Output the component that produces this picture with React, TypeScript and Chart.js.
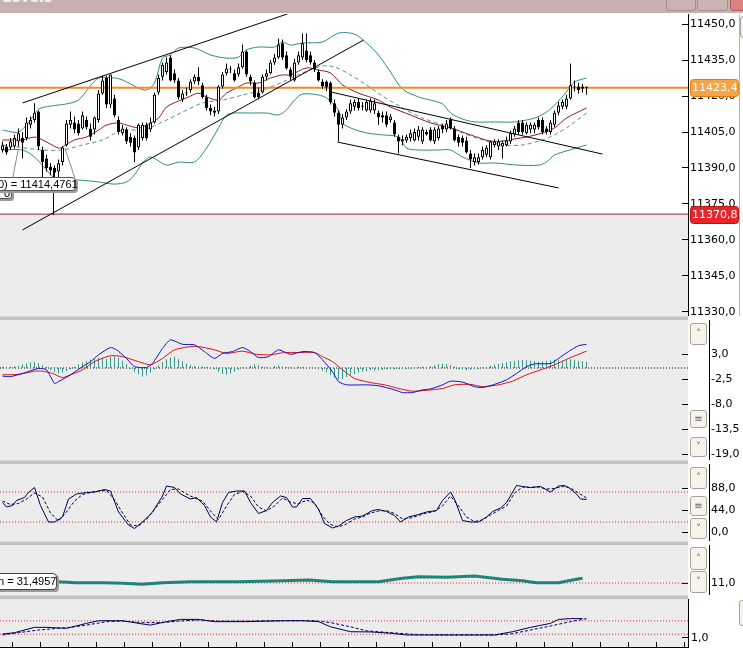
import React, { useEffect, useRef } from 'react';
import { Chart, registerables } from 'chart.js';

Chart.register(...registerables);

const X_MIN = -0.625;
const X_MAX = 171.375;

// ---- price candles (bar index 0..146) ----
const opens = [
  11397.5, 11399, 11398.5, 11399, 11401, 11402.5, 11402.5, 11408, 11410, 11413.5,
  11397.5, 11394, 11390.5, 11390, 11388.5, 11392.5, 11399.5, 11408, 11409, 11408.5,
  11406.5, 11410, 11406.5, 11406, 11410, 11421, 11427.5, 11416.5, 11419, 11410,
  11404.5, 11406, 11403, 11402.5, 11398.5, 11402.5, 11408, 11406, 11409, 11421.5,
  11428, 11430, 11436, 11429.5, 11426.5, 11418.5, 11421.5, 11422.5, 11426, 11428,
  11424.5, 11419.5, 11415, 11414, 11413.5, 11424, 11429.5, 11431.5, 11429.5, 11429,
  11432, 11438.5, 11428, 11425.5, 11421.5, 11421.5, 11428, 11429.5, 11434, 11436,
  11442, 11437, 11431, 11426.5, 11434, 11436, 11439, 11437, 11434, 11430,
  11426, 11426, 11425.5, 11417, 11413, 11408, 11411, 11413.5, 11415.5, 11417.5,
  11416, 11414, 11414, 11414, 11413, 11412, 11412, 11410, 11409, 11403,
  11401, 11401.5, 11402.5, 11401.5, 11403, 11401, 11405, 11406, 11401, 11402.5,
  11407.5, 11406, 11410, 11406.5, 11403, 11402.5, 11401.5, 11396, 11392.5, 11392.5,
  11394.5, 11395.5, 11394.5, 11399.5, 11399, 11399, 11399.5, 11401, 11404, 11409,
  11409, 11404.5, 11406, 11406, 11410, 11410, 11406.5, 11405, 11408, 11413,
  11415.5, 11415.5, 11419, 11424, 11424, 11424, 11423.5
];
const highs = [
  11401, 11400, 11402.5, 11404, 11406.5, 11405, 11411, 11411.5, 11417, 11414,
  11399, 11395.5, 11392, 11391, 11393.5, 11399, 11410, 11413.5, 11411.5, 11410,
  11413.5, 11411.5, 11408.5, 11411.5, 11422.5, 11428.5, 11428.5, 11429, 11420.5, 11411.5,
  11408, 11407, 11404.5, 11403.5, 11408.5, 11409, 11409, 11411, 11421.5, 11429,
  11434, 11436, 11437, 11431, 11427.5, 11422.5, 11423.5, 11427, 11429, 11432,
  11425.5, 11420.5, 11416.5, 11415.5, 11424.5, 11430, 11433.5, 11432.5, 11431, 11433.5,
  11441.5, 11439, 11429, 11426.5, 11423.5, 11429, 11431, 11435, 11437.5, 11444,
  11443.5, 11438.5, 11432, 11435.5, 11438.5, 11446, 11446, 11438.5, 11435, 11431,
  11427, 11426.5, 11426, 11418.5, 11414, 11412.5, 11414.5, 11418.5, 11418.5, 11419,
  11417.5, 11418.5, 11419, 11418.5, 11414, 11413.5, 11413.5, 11412.5, 11410, 11404,
  11403.5, 11404, 11406, 11406.5, 11407.5, 11407, 11406, 11407, 11407, 11407.5,
  11408.5, 11410, 11411, 11407.5, 11404, 11403.5, 11403, 11397.5, 11396, 11396,
  11399, 11399.5, 11401.5, 11402, 11402, 11401.5, 11403, 11405.5, 11407.5, 11410,
  11410, 11409, 11409, 11409, 11411, 11411, 11407.5, 11410, 11414, 11417.5,
  11418.5, 11420.5, 11433.5, 11426.5, 11425.5, 11425, 11424
];
const lows = [
  11396.5, 11395.5, 11397.5, 11398, 11399, 11394, 11401.5, 11406.5, 11409, 11397.5,
  11385, 11388.5, 11387, 11386, 11385, 11391, 11399, 11406.5, 11404.5, 11403.5,
  11406, 11406, 11401.5, 11404, 11409, 11420.5, 11415, 11415, 11411, 11404,
  11403.5, 11400, 11399, 11392.5, 11397.5, 11401.5, 11401.5, 11405, 11408.5, 11420.5,
  11426.5, 11429, 11426, 11425.5, 11418.5, 11417.5, 11420, 11421.5, 11425, 11424.5,
  11419, 11414, 11412, 11411.5, 11412.5, 11423, 11428.5, 11429.5, 11426, 11428,
  11431.5, 11428, 11424.5, 11419, 11418.5, 11421, 11426.5, 11429, 11433, 11435.5,
  11435, 11431, 11426.5, 11426, 11433, 11435, 11434, 11433, 11430, 11426,
  11423, 11422, 11416.5, 11411.5, 11401, 11406.5, 11410, 11412.5, 11414, 11414,
  11414, 11413.5, 11413, 11412.5, 11408, 11409, 11407, 11409, 11403, 11396,
  11399.5, 11400.5, 11401, 11401, 11401.5, 11400, 11403.5, 11401, 11400, 11401.5,
  11404.5, 11405, 11406, 11401, 11399, 11399, 11396, 11390, 11391, 11391.5,
  11393.5, 11394.5, 11393.5, 11398.5, 11397.5, 11394, 11399, 11400, 11403, 11404,
  11404, 11404, 11404.5, 11404.5, 11406, 11404, 11404, 11404, 11407, 11412,
  11414.5, 11414.5, 11418.5, 11422, 11421, 11421.5, 11420.5
];
const closes = [
  11399.5, 11396.5, 11401, 11402.5, 11404.5, 11400.5, 11409, 11410, 11413, 11399,
  11392.5, 11390, 11389, 11388, 11392, 11398.5, 11408.5, 11410, 11406, 11404.5,
  11412, 11407, 11403, 11411, 11421, 11426.5, 11416.5, 11429, 11412, 11405,
  11406.5, 11401, 11400.5, 11396.5, 11408, 11408, 11402.5, 11409, 11420.5, 11427.5,
  11433, 11434, 11426.5, 11426.5, 11419.5, 11421, 11421, 11426, 11428, 11426,
  11419.5, 11415, 11413.5, 11413, 11424, 11429, 11431.5, 11431, 11426.5, 11432,
  11438.5, 11429, 11426, 11419.5, 11419.5, 11428, 11429.5, 11434, 11436, 11441.5,
  11436, 11431.5, 11428, 11434, 11437, 11442, 11435, 11434, 11431, 11426.5,
  11424, 11423.5, 11417.5, 11413, 11408, 11411, 11413.5, 11417, 11417.5, 11415,
  11415.5, 11417.5, 11418, 11417, 11411, 11411, 11408, 11411.5, 11404, 11401,
  11402, 11403, 11404.5, 11405, 11406, 11406, 11404, 11401.5, 11406, 11406.5,
  11406, 11408.5, 11406.5, 11401.5, 11400.5, 11400.5, 11396.5, 11393.5, 11394.5, 11394.5,
  11397.5, 11398.5, 11401, 11401, 11401, 11400.5, 11401.5, 11404.5, 11406.5, 11405,
  11405, 11408, 11408, 11408, 11407, 11405, 11405, 11409, 11413, 11416,
  11417.5, 11419, 11424.5, 11423.5, 11422.5, 11423, 11423.4
];

const lastPrice = 11423.4;
const lowerMark = 11370.8;
const priceTicks = [11450, 11435, 11420, 11405, 11390, 11375, 11360, 11345, 11330];

// ---- overlays: [bar index, price] ----
const bbUpper = [
  [0, 11405.8], [4, 11405], [7, 11410], [9, 11414.5], [12, 11415.8], [16, 11416.7], [19, 11418.3],
  [22, 11424.2], [24, 11427.5], [28, 11427.5], [30, 11426.7], [34, 11423.3], [36, 11422.5], [38, 11425.4],
  [40, 11435.8], [42, 11437.1], [44, 11440], [48, 11440], [52, 11437.1], [56, 11435.8], [59, 11436.2],
  [61, 11439.2], [64, 11440.4], [68, 11440.4], [70, 11442.5], [72, 11441.2], [75, 11442.1], [80, 11442.5],
  [84, 11446.2], [88, 11445.8], [91, 11442.1], [94, 11437.1], [97, 11430], [100, 11422.9], [104, 11419.6],
  [107, 11418.3], [110, 11416.7], [112, 11412.9], [115, 11410.4], [118, 11409.2], [123, 11409.2],
  [128, 11409.2], [133, 11410.8], [136, 11413.3], [138, 11416.2], [141, 11421.7], [143, 11425.8], [146, 11427.5]
];
const bbLower = [
  [0, 11397.5], [5, 11397.5], [8, 11394.6], [11, 11389.2], [13, 11385.8], [16, 11385], [19, 11385],
  [24, 11384.2], [28, 11383.3], [31, 11384.2], [33, 11387.1], [35, 11392.1], [37, 11394.6], [41, 11391.2],
  [44, 11392.5], [48, 11392.5], [51, 11398.3], [54, 11406.7], [56, 11412.1], [58, 11412.9], [62, 11412.9],
  [66, 11412.9], [69, 11412.1], [71, 11414.2], [73, 11418.3], [75, 11420.8], [79, 11420.4], [81, 11419.2],
  [84, 11414.2], [85, 11408.8], [87, 11406.7], [91, 11404.6], [95, 11403.8], [99, 11402.9], [101, 11398.3],
  [104, 11397.5], [109, 11397.5], [112, 11397.5], [115, 11394.6], [119, 11392.1], [123, 11392.1],
  [129, 11391.2], [134, 11391.2], [136, 11392.5], [138, 11395.4], [141, 11397.1], [146, 11399.6]
];
const maMid = [
  [0, 11401.7], [5, 11401.7], [8, 11402.9], [10, 11401.7], [14, 11398.3], [15, 11398.8], [18, 11401.7],
  [21, 11402.9], [24, 11405.8], [26, 11407.9], [29, 11408.8], [31, 11407.9], [34, 11406.7], [36, 11407.9],
  [39, 11410.8], [41, 11415.4], [44, 11417.9], [46, 11419.2], [49, 11421.2], [51, 11419.6], [54, 11418.3],
  [56, 11421.2], [59, 11423.8], [61, 11425.4], [64, 11425.4], [67, 11427.5], [70, 11428.8], [72, 11428.8],
  [76, 11431.7], [79, 11430.8], [82, 11429.6], [85, 11424.6], [89, 11421.2], [94, 11418.3], [97, 11415.4],
  [102, 11412.1], [107, 11408.8], [112, 11406.7], [117, 11403.8], [122, 11401.2], [125, 11401.2],
  [128, 11402.1], [131, 11402.9], [135, 11404.6], [138, 11406.7], [141, 11410.8], [146, 11415]
];
const maSlow = [
  [0, 11399.6], [10, 11397.5], [15, 11397.5], [20, 11399.6], [25, 11401.7], [30, 11405.8], [35, 11405.8],
  [40, 11409.2], [45, 11413.3], [50, 11417.1], [55, 11418.3], [60, 11420.4], [65, 11422.5], [70, 11425.8],
  [75, 11429.6], [80, 11432.5], [83, 11432.1], [87, 11428.8], [91, 11424.6], [95, 11420], [100, 11415],
  [105, 11410.8], [110, 11407.9], [115, 11404.6], [120, 11401.7], [125, 11399.6], [130, 11399.6],
  [135, 11401.7], [138, 11403.8], [142, 11407.9], [146, 11412.9]
];
const channelUp = [[5, 11417.1], [71.25, 11454.2]];
const channelDown = [[5, 11364.2], [90.25, 11443.3]];
const descUpper = [[82, 11421.7], [150, 11395.8]];
const descLower = [[83.75, 11400.8], [139, 11381.7]];
const markerLine = [[12.75, 11388.3], [12.75, 11370.4]];
const pointerA = [[2.6, 11386.2], [3.9, 11397.5]];
const pointerB = [[15.6, 11398.3], [18.1, 11385.8]];

// ---- MACD ----
const macdLine = [
  [0, -1.8], [2, -1.9], [5, -1.2], [9, -0.1], [11, -0.4], [13, -3.4], [14, -3.0], [17, -1.5], [20, 0.3],
  [22, 1.4], [24, 2.9], [27, 4.5], [28.5, 4.0], [31, 2.1], [33, 0.3], [36, 0.1], [37.5, 1.0], [40, 4.3],
  [42, 6.2], [45, 5.2], [48, 5.1], [50.5, 3.6], [53, 2.1], [55, 3.2], [57.5, 3.6], [60, 4.5], [62, 3.6],
  [64, 2.3], [66.5, 2.5], [69, 4.0], [72, 3.0], [75, 3.6], [78, 3.4], [80, 1.8], [82.5, -0.8], [84, -3.0],
  [86, -3.7], [91, -3.7], [94, -3.9], [98, -4.8], [100, -5.4], [102.5, -5.4], [105, -4.8], [107, -4.6],
  [110, -3.7], [112, -2.9], [115, -3.1], [118, -4.1], [120, -4.3], [123, -3.6], [126, -2.6], [128.5, -1.2],
  [131, 0.3], [133, 0.9], [137, 1.0], [139, 2.1], [141.5, 3.6], [144, 4.9], [146, 5.2]
];
const macdSignal = [
  [0, -1.5], [4, -1.4], [8, -0.7], [10, -0.7], [12.5, -1.2], [15, -2.1], [17, -1.5], [20, -0.4], [23, 1.4],
  [27, 2.7], [30, 2.5], [34, 1.4], [37, 0.7], [40, 2.1], [43, 4.0], [47, 4.7], [49, 4.7], [53, 4.0], [56, 3.2],
  [60, 3.7], [63.5, 3.0], [67, 2.9], [70.5, 3.4], [74, 3.4], [78, 3.4], [80, 2.5], [82.5, 1.4], [85, -0.4],
  [88, -2.3], [92, -3.2], [95.5, -3.7], [99, -4.5], [102.5, -5.1], [106, -4.9], [110, -4.5], [113, -3.7],
  [117, -3.6], [120, -4.1], [124, -3.7], [127.5, -2.9], [131, -1.5], [134.5, -0.4], [138, 0.7], [141.5, 2.1],
  [146, 3.7]
];
const macdHist = [
  0.2, 0.3, 0.3, 0.4, 0.5,
  0.8, 1.0, 1.2, 1.4, 1.0, 0.6, 0.2,
  -0.4, -0.9, -1.2, -1.0, -0.7, -0.3,
  0.3, 0.8, 1.2, 1.5, 1.8, 2.0, 2.2, 2.3, 2.0, 2.4, 2.5, 2.2, 1.6,
  0.8, -0.2, -0.9, -1.4, -1.9, -1.6, -1.0, -0.3,
  0.6, 1.3, 1.9, 2.3, 2.5, 2.0, 1.5, 1.0, 0.7, 0.5, 0.4, 0.3,
  0.2, 0.2, -0.3, -0.8, -1.3, -1.5, -1.2, -0.8, -0.4, 0.1,
  0.3, 0.5, 0.8, 0.6, 0.3, 0.1, 0.2, 0.5, 0.6, 0.4, 0.2, 0.1, 0.2,
  0.3, 0.2, 0.1, 0.1, 0.0, -0.3, -0.6, -1.0,
  -1.6, -2.1, -2.6, -2.4, -2.0, -1.6, -1.3, -1.0, -0.8, -0.7, -0.5,
  -0.6, -0.5, -0.4, -0.3, -0.3, -0.2, -0.2, -0.3, -0.2, -0.1, 0.1, 0.2, 0.3, 0.3, 0.4,
  0.6, 0.9, 1.0, 0.9, 0.6, 0.3, -0.2, -0.4, -0.5, -0.4, -0.3, -0.2, 0.1,
  0.3, 0.5, 0.7, 0.9, 1.1, 1.3, 1.5, 1.6, 1.7, 1.8, 1.7, 1.6, 1.5, 1.4, 1.5, 1.6, 1.7, 1.8, 1.7, 1.6,
  1.8, 1.9, 1.8, 1.6, 1.5, 1.4
];
const macdTicks = [3, -2.5, -8, -13.5, -19];

// ---- Stochastic ----
const stochK = [
  [0, 59], [1, 50], [2.5, 53], [3.5, 63], [5.5, 69], [6.5, 79], [8, 89], [9.5, 53], [11.5, 20], [13, 20],
  [15, 30], [16.5, 66], [18.5, 76], [21, 79], [23, 80], [25.5, 85], [27, 82], [29, 40], [31.5, 14], [33, 7],
  [35, 20], [37.5, 40], [40, 72], [41, 92], [43, 89], [44.5, 76], [47, 66], [48.5, 69], [50.5, 53], [52, 30],
  [53.5, 20], [55, 59], [56.5, 79], [58.5, 82], [60.5, 82], [62, 59], [64, 37], [66, 43], [67.5, 59],
  [69.5, 72], [71, 69], [72.5, 50], [73.5, 50], [75, 67], [77, 67], [79, 46], [80.5, 17], [82.5, 8], [84, 12],
  [86, 23], [88, 30], [90, 32], [92.5, 43], [94, 45], [96, 41], [98, 33], [99.5, 20], [101.5, 30], [104, 35],
  [106, 40], [108.5, 43], [110, 63], [112, 80], [113, 66], [115, 23], [117, 20], [119, 20], [121, 30],
  [122.5, 41], [124.5, 48], [126, 59], [128.5, 93], [130, 91], [132, 89], [134.5, 91], [137, 80], [139, 92],
  [140.5, 93], [141.5, 89], [143.5, 76], [144.5, 66], [146, 65]
];
const stochD = [
  [0, 62], [2, 55], [4, 57], [6, 66], [8, 78], [10, 70], [12, 38], [14, 22], [16, 40], [18, 62], [20, 75],
  [22, 79], [24, 82], [26, 83], [28, 65], [30, 38], [32, 14], [34, 12], [36, 25], [38, 45], [40, 65], [42, 85],
  [44, 86], [46, 76], [48, 68], [50, 62], [52, 42], [54, 25], [56, 52], [58, 75], [60, 81], [62, 72], [64, 50],
  [66, 42], [68, 52], [70, 68], [72, 60], [74, 56], [76, 64], [78, 58], [80, 32], [82, 15], [84, 10], [86, 16],
  [88, 26], [90, 30], [92, 38], [94, 42], [96, 43], [98, 37], [100, 26], [102, 28], [104, 33], [106, 38],
  [108, 41], [110, 52], [112, 72], [114, 52], [116, 30], [118, 21], [120, 24], [122, 34], [124, 43], [126, 52],
  [128, 78], [130, 90], [132, 89], [134, 90], [136, 86], [138, 87], [140, 91], [142, 88], [144, 78], [146, 68]
];
const stochTicks = [88, 44, 0];
const stochLevels = [80, 20];

// ---- ADX-like ----
const adxLine = [
  [0, 24], [7, 20], [14, 17.5], [18.5, 12.5], [25.5, 12.5], [30, 9.5], [35, 4.5], [40, 12.5], [47, 17.5],
  [59, 17.5], [70.5, 22.5], [76.5, 26], [82.5, 17.5], [94, 17.5], [100, 34.5], [104, 42.5], [111, 39.5],
  [118, 46], [125, 29.5], [130, 22.5], [133.5, 12.5], [139, 12.5], [141.5, 22.5], [145, 34.5]
];
const adxTicks = [11];
const adxLevel = 11;

// ---- bottom oscillator ----
const oscLine = [
  [0, 1.21], [3, 1.28], [8, 1.56], [11, 1.56], [16, 1.51], [21, 1.77], [24, 1.91], [30, 1.91], [34, 1.77],
  [37, 1.68], [41, 1.86], [44.5, 1.98], [49, 1.98], [53, 1.86], [61, 1.86], [70.5, 1.91], [75, 1.91],
  [79, 1.86], [82, 1.59], [87, 1.33], [92, 1.32], [97, 1.25], [101, 1.16], [106, 1.16], [112, 1.16],
  [118, 1.16], [123, 1.16], [127.5, 1.33], [132, 1.56], [137, 1.77], [139, 1.98], [142, 2.02], [145, 2.02]
];
const oscSignal = [
  [0, 1.16], [4, 1.28], [9, 1.42], [14, 1.51], [17, 1.56], [21, 1.68], [26, 1.86], [30, 1.89], [35, 1.81],
  [40, 1.81], [44, 1.89], [49, 1.95], [54, 1.89], [61, 1.89], [66, 1.91], [73, 1.91], [78, 1.91], [82, 1.81],
  [87, 1.59], [91, 1.38], [94, 1.33], [99, 1.25], [104, 1.17], [109, 1.16], [116, 1.16], [123, 1.16],
  [127, 1.21], [132, 1.42], [137, 1.63], [142, 1.86], [146, 2.02]
];
const oscTicks = [1];
const oscLevels = [1.9, 1.2];

const timeTicks = [
  2.5, 9.5, 16.5, 23.5, 30.5, 37.5, 44.5, 51.5, 58.5, 65.5, 72.5, 79.5, 86.5, 93.5, 100.5, 107.5,
  114.5, 121.5, 128.5, 135.5, 142.5, 149.5, 156.5, 163.5, 170.5
];

// ---- helpers ----
const fmt = (v: number) => Number(v).toFixed(1).replace('.', ',');
const pts = (arr: number[][]) => arr.map(([x, y]) => ({ x, y }));
const hline = (v: number) => [{ x: X_MIN, y: v }, { x: X_MAX, y: v }];

function lineDs(data: any[], color: string, width = 1, dash: number[] = [], order = 3, tension = 0.3) {
  return {
    type: 'line', data, borderColor: color, borderWidth: width, borderDash: dash,
    pointRadius: 0, tension, fill: false, order, spanGaps: true,
  };
}

function xAxis(show: boolean) {
  const ax: any = {
    type: 'linear', min: X_MIN, max: X_MAX, offset: false, display: show, position: 'bottom',
    afterBuildTicks: (s: any) => { s.ticks = timeTicks.map((v) => ({ value: v })); },
    grid: { offset: false, drawOnChartArea: false, drawTicks: true, tickLength: -5, color: '#000' },
    border: { display: true, color: '#000' },
    ticks: { display: false },
  };
  if (show) ax.afterFit = (s: any) => { s.height = 5; };
  return ax;
}

function yAxis(min: number, max: number, ticks: number[], labelX: number, border: boolean) {
  return {
    type: 'linear', position: 'right', min, max, bounds: 'data',
    afterBuildTicks: (s: any) => { s.ticks = ticks.map((v) => ({ value: v })); },
    afterFit: (s: any) => { s.width = 55; s.paddingTop = 0; s.paddingBottom = 0; },
    grid: { drawOnChartArea: false, drawTicks: true, tickLength: -6, color: '#000', lineWidth: 1 },
    border: { display: border, color: '#000' },
    ticks: {
      autoSkip: false, padding: labelX - 682, color: '#000',
      font: { family: 'DejaVu Sans', size: 11 },
      callback: (v: any) => fmt(v),
    },
  };
}

function baseOptions(y: any, showX = false) {
  return {
    responsive: false,
    animation: false,
    devicePixelRatio: 1,
    events: [],
    layout: { padding: 0 },
    plugins: { legend: { display: false }, tooltip: { enabled: false } },
    scales: { x: xAxis(showX), y },
  };
}

const panelBg = (id: string) => ({
  id,
  beforeDraw(chart: any) {
    const { ctx, chartArea: a } = chart;
    ctx.save();
    ctx.fillStyle = '#ffffff';
    ctx.fillRect(0, 0, chart.width, chart.height);
    ctx.fillStyle = '#ececec';
    ctx.fillRect(a.left, a.top, a.right - a.left, a.bottom - a.top);
    ctx.restore();
  },
});

function priceBox(ctx: any, y: number, text: string, fill: string, stroke: string) {
  const x = 690, w = 48, h = 17;
  const top = Math.round(y - h / 2) + 0.5;
  ctx.save();
  ctx.beginPath();
  ctx.roundRect(x + 0.5, top, w, h, 3);
  ctx.fillStyle = fill;
  ctx.fill();
  ctx.strokeStyle = stroke;
  ctx.lineWidth = 1;
  ctx.stroke();
  ctx.fillStyle = '#ffffff';
  ctx.font = '11px "DejaVu Sans"';
  ctx.textBaseline = 'middle';
  ctx.fillText(text, x + 2, top + h / 2 + 0.5);
  ctx.restore();
}

const mainDeco = {
  id: 'mainDeco',
  beforeDraw(chart: any) {
    const { ctx, chartArea: a, scales } = chart;
    ctx.save();
    ctx.fillStyle = '#ffffff';
    ctx.fillRect(0, 0, chart.width, chart.height);
    const py = Math.round(scales.y.getPixelForValue(lowerMark));
    ctx.fillStyle = '#ececec';
    ctx.fillRect(a.left, py, a.right - a.left, a.bottom - py);
    ctx.restore();
  },
  afterDraw(chart: any) {
    const { ctx, scales } = chart;
    priceBox(ctx, scales.y.getPixelForValue(lastPrice), fmt(lastPrice), '#f7a444', '#e07c18');
    priceBox(ctx, scales.y.getPixelForValue(lowerMark), fmt(lowerMark), '#e8262a', '#b81414');
  },
};

function mainConfig(): any {
  const idx = opens.map((_, i) => i);
  return {
    type: 'bar',
    data: {
      datasets: [
        lineDs(pts(channelUp), '#000', 1, [], -1, 0),
        lineDs(pts(channelDown), '#000', 1, [], -1, 0),
        lineDs(pts(descUpper), '#000', 1, [], -1, 0),
        lineDs(pts(descLower), '#000', 1, [], -1, 0),
        lineDs(pts(markerLine), '#000', 1, [], -1, 0),
        {
          type: 'bar',
          data: idx.map((i) => ({ x: i, y: [opens[i], closes[i]] })),
          backgroundColor: (c: any) => (closes[c.dataIndex] >= opens[c.dataIndex] ? '#ffffff' : '#000000'),
          borderColor: '#000', borderWidth: 1, borderSkipped: false, barThickness: 3,
          minBarLength: 1, grouped: false, inflateAmount: 0, order: 0,
        },
        {
          type: 'bar',
          data: idx.map((i) => ({ x: i, y: [lows[i], highs[i]] })),
          backgroundColor: '#000', borderWidth: 0, barThickness: 1,
          grouped: false, inflateAmount: 0, order: 1,
        },
        lineDs(hline(lastPrice), '#f28a1e', 2, [], 2, 0),
        lineDs(hline(lowerMark), '#a41c3a', 1, [], 2, 0),
        lineDs(pts(maMid), '#8e1b1b', 1, [], 3, 0.3),
        lineDs(pts(maSlow), '#5f8f8c', 1, [4, 3], 3, 0.3),
        lineDs(pts(bbUpper), '#2a8a8a', 1, [], 4, 0.3),
        lineDs(pts(bbLower), '#2a8a8a', 1, [], 4, 0.3),
        lineDs(pts(pointerA), '#8a8a8a', 1, [], 5, 0),
        lineDs(pts(pointerB), '#8a8a8a', 1, [], 5, 0),
      ],
    },
    options: baseOptions(yAxis(11328.333, 11454.167, priceTicks, 690, true)),
    plugins: [mainDeco],
  };
}

function macdConfig(): any {
  const idx = macdHist.map((_, i) => i);
  return {
    type: 'bar',
    data: {
      datasets: [
        lineDs(pts(macdLine), '#1010d0', 1, [], 0, 0.2),
        lineDs(pts(macdSignal), '#e01010', 1, [], 1, 0.2),
        {
          type: 'bar',
          data: idx.map((i) => ({ x: i, y: macdHist[i] })),
          backgroundColor: '#3a9a8a', borderWidth: 0, barThickness: 1,
          grouped: false, inflateAmount: 0, order: 2,
        },
        lineDs(hline(0), '#000', 1, [1, 2], 3, 0),
      ],
    },
    options: baseOptions(yAxis(-20.22, 10.55, macdTicks, 711, false)),
    plugins: [panelBg('macdBg')],
  };
}

function stochConfig(): any {
  return {
    type: 'line',
    data: {
      datasets: [
        lineDs(pts(stochK), '#00004a', 1, [], 0, 0),
        lineDs(pts(stochD), '#00004a', 1, [3, 2], 1, 0),
        ...stochLevels.map((v) => lineDs(hline(v), '#e02828', 1, [1, 2], 3, 0)),
      ],
    },
    options: baseOptions(yAxis(-18, 136, stochTicks, 711, false)),
    plugins: [panelBg('stochBg')],
  };
}

function adxConfig(): any {
  return {
    type: 'line',
    data: {
      datasets: [
        lineDs(pts(adxLine), '#1e8478', 3, [], 0, 0),
        lineDs(hline(adxLevel), '#e02828', 1, [1, 2], 3, 0),
      ],
    },
    options: baseOptions(yAxis(-49, 201, adxTicks, 711, false)),
    plugins: [panelBg('adxBg')],
  };
}

function oscConfig(): any {
  return {
    type: 'line',
    data: {
      datasets: [
        lineDs(pts(oscLine), '#00005a', 1, [], 0, 0),
        lineDs(pts(oscSignal), '#00005a', 1, [3, 2], 1, 0),
        ...oscLevels.map((v) => lineDs(hline(v), '#e02828', 1, [1, 2], 3, 0)),
      ],
    },
    options: baseOptions(yAxis(0.526, 3.053, oscTicks, 691, true), true),
    plugins: [panelBg('oscBg')],
  };
}

const btn = (left: number, top: number, h: number, glyph: string, w = 17) => (
  <div
    key={`${left}-${top}`}
    style={{
      position: 'absolute', left, top, width: w, height: h, boxSizing: 'border-box',
      background: '#f6f3ea', border: '1px solid #a9a397', borderRadius: 3,
      font: '10px "DejaVu Sans", sans-serif', color: '#6a6a6a', textAlign: 'center',
      lineHeight: `${h - 2}px`,
    }}
  >
    {glyph}
  </div>
);

const sep = (top: number) => (
  <div key={`sep-${top}`} style={{ position: 'absolute', left: 0, top, width: 688, height: 4, background: '#c2c2c2', borderTop: '1px solid #d8d8d8', boxSizing: 'border-box' }} />
);

const vline = (left: number, top: number, h: number, color = '#000') => (
  <div key={`vl-${left}-${top}`} style={{ position: 'absolute', left, top, width: 1, height: h, background: color }} />
);

export default function App() {
  const mainRef = useRef<HTMLCanvasElement>(null);
  const macdRef = useRef<HTMLCanvasElement>(null);
  const stochRef = useRef<HTMLCanvasElement>(null);
  const adxRef = useRef<HTMLCanvasElement>(null);
  const oscRef = useRef<HTMLCanvasElement>(null);

  useEffect(() => {
    const charts: Chart[] = [];
    if (mainRef.current) charts.push(new Chart(mainRef.current, mainConfig()));
    if (macdRef.current) charts.push(new Chart(macdRef.current, macdConfig()));
    if (stochRef.current) charts.push(new Chart(stochRef.current, stochConfig()));
    if (adxRef.current) charts.push(new Chart(adxRef.current, adxConfig()));
    if (oscRef.current) charts.push(new Chart(oscRef.current, oscConfig()));
    return () => charts.forEach((c) => c.destroy());
  }, []);

  const cv = (top: number, h: number) => ({ position: 'absolute' as const, left: 0, top, width: 743, height: h });

  return (
    <div style={{ position: 'fixed', left: 0, top: 0, width: 743, height: 652, overflow: 'hidden', background: '#fff', fontFamily: '"Liberation Sans", Arial, sans-serif' }}>
      <div style={{ position: 'absolute', left: 0, top: 0, width: 743, height: 13, background: '#c7b1ad', overflow: 'hidden' }}>
        <div style={{ position: 'absolute', left: 2, top: -11, font: 'bold 14px "DejaVu Sans"', color: '#f4eeee' }}>Levels</div>
        <div style={{ position: 'absolute', left: 666, top: -3, width: 28, height: 12, background: '#c9b4b0', border: '1px solid #a58f8b', borderRadius: 3 }} />
        <div style={{ position: 'absolute', left: 697, top: -3, width: 29, height: 12, background: '#c9b4b0', border: '1px solid #a58f8b', borderRadius: 3 }} />
        <div style={{ position: 'absolute', left: 730, top: -3, width: 20, height: 12, background: '#d98080', border: '1px solid #b06060', borderRadius: 3 }} />
      </div>

      <canvas ref={mainRef} width={743} height={302} style={cv(14, 302)} />
      <canvas ref={macdRef} width={743} height={140} style={cv(320, 140)} />
      <canvas ref={stochRef} width={743} height={77} style={cv(464, 77)} />
      <canvas ref={adxRef} width={743} height={50} style={cv(545, 50)} />
      <canvas ref={oscRef} width={743} height={53} style={cv(599, 53)} />

      {sep(316)}
      {sep(460)}
      {sep(541)}
      {sep(595)}

      {vline(739, 14, 302, '#b4b4b4')}
      {vline(709, 320, 140)}
      {vline(709, 464, 77)}
      {vline(709, 545, 50)}

      {btn(740, 16, 22, '', 8)}
      {btn(690, 323, 22, '˄')}
      {btn(690, 410, 18, '≡')}
      {btn(690, 437, 20, '˅')}
      {btn(690, 467, 22, '˄')}
      {btn(690, 496, 20, '≡')}
      {btn(690, 518, 21, '˅')}
      {btn(690, 547, 23, '˄')}
      {btn(690, 571, 22, '˅')}
      {btn(739, 600, 26, '', 8)}

      <div style={{ position: 'absolute', left: -6, top: 187, width: 18, height: 12, boxSizing: 'border-box', background: '#f4f4f4', border: '1px solid #555', borderRadius: 3, boxShadow: '2px 2px 0 #9c9c9c', fontSize: 11, lineHeight: '10px', paddingLeft: 9, color: '#000' }}>0</div>
      <div style={{ position: 'absolute', left: -6, top: 177, width: 82, height: 14, boxSizing: 'border-box', background: '#fff', border: '1px solid #555', borderRadius: 4, boxShadow: '2px 2px 0 #9c9c9c', fontSize: 11, lineHeight: '12px', paddingLeft: 3, color: '#000', whiteSpace: 'nowrap' }}>0) = 11414,4761</div>
      <div style={{ position: 'absolute', left: -5, top: 573, width: 62, height: 17, boxSizing: 'border-box', background: '#fff', border: '1px solid #444', borderRadius: 4, boxShadow: '2px 2px 0 #9c9c9c', fontSize: 11, lineHeight: '15px', paddingLeft: 2, color: '#000', whiteSpace: 'nowrap' }}>n = 31,4957</div>
    </div>
  );
}
